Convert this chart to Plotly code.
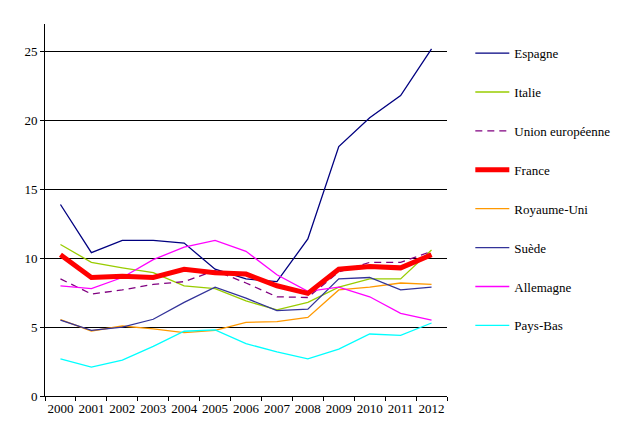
import plotly.graph_objects as go

years = [str(y) for y in range(2000, 2013)]

espagne = [13.9, 10.4, 11.3, 11.3, 11.1, 9.2, 8.5, 8.3, 11.4, 18.1, 20.2, 21.8, 25.2]
italie = [11.0, 9.7, 9.3, 8.95, 8.0, 7.8, 6.9, 6.25, 6.8, 7.9, 8.5, 8.5, 10.6]
ue = [8.5, 7.4, 7.7, 8.1, 8.3, 9.1, 8.2, 7.2, 7.15, 9.0, 9.7, 9.7, 10.5]
france = [10.25, 8.6, 8.7, 8.6, 9.2, 8.95, 8.85, 8.0, 7.45, 9.2, 9.4, 9.3, 10.25]
royaume_uni = [5.55, 4.72, 5.08, 4.87, 4.6, 4.77, 5.35, 5.4, 5.7, 7.7, 7.9, 8.2, 8.1]
suede = [5.5, 4.77, 5.0, 5.57, 6.8, 7.9, 7.1, 6.2, 6.3, 8.5, 8.6, 7.7, 7.9]
allemagne = [8.0, 7.8, 8.6, 9.9, 10.8, 11.3, 10.5, 8.8, 7.6, 7.9, 7.2, 6.0, 5.5]
pays_bas = [2.7, 2.1, 2.6, 3.6, 4.7, 4.8, 3.8, 3.2, 2.7, 3.4, 4.5, 4.4, 5.3]

y_ticks = [0, 5, 10, 15, 20, 25]

series = [
    ("Espagne", espagne, "#000080", 1.3, "solid", 1),
    ("Italie", italie, "#99CC00", 1.3, "solid", 2),
    ("Union européenne", ue, "#800080", 1.3, "7px,5px", 3),
    ("Royaume-Uni", royaume_uni, "#FF9900", 1.3, "solid", 5),
    ("Suède", suede, "#333399", 1.3, "solid", 6),
    ("Allemagne", allemagne, "#FF00FF", 1.3, "solid", 7),
    ("Pays-Bas", pays_bas, "#00FFFF", 1.3, "solid", 8),
    ("France", france, "#FF0000", 5, "solid", 4),
]

fig = go.Figure()
for name, vals, color, w, dash, rank in series:
    fig.add_trace(go.Scatter(
        x=years, y=vals, name=name, mode="lines",
        line=dict(color=color, width=w, dash=dash),
        legendgroup=name, legendrank=rank,
    ))

font = "Liberation Serif, Times New Roman, serif"
fig.update_layout(
    width=619, height=431,
    margin=dict(l=37, r=180, t=16, b=43),
    paper_bgcolor="white", plot_bgcolor="white",
    font=dict(family=font, size=13, color="black"),
    showlegend=True,
    legend=dict(
        x=1.058, xanchor="left", y=0.962, yanchor="top",
        tracegroupgap=19, itemwidth=34,
        font=dict(family=font, size=13, color="black"),
        bgcolor="rgba(0,0,0,0)",
    ),
    xaxis=dict(
        type="category", range=[-0.5, 12.5],
        tickson="boundaries", ticks="outside", ticklen=4, tickangle=0,
        tickcolor="black", showline=True, linecolor="black", linewidth=1,
        showgrid=False, zeroline=False,
        tickfont=dict(family=font, size=13),
    ),
    yaxis=dict(
        range=[0, 27], tickvals=y_ticks,
        ticks="outside", ticklen=4, tickcolor="black",
        showline=True, linecolor="black", linewidth=1,
        showgrid=True, gridcolor="black", gridwidth=1,
        zeroline=False,
        tickfont=dict(family=font, size=13),
    ),
)

fig.write_html("out.html")
